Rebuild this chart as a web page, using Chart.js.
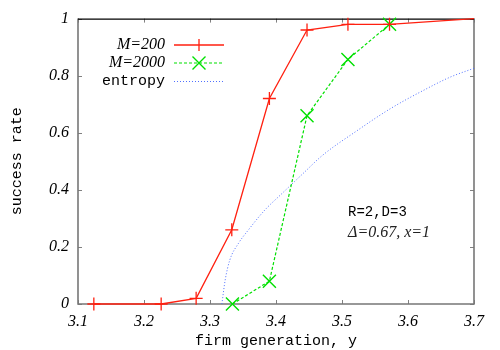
<!DOCTYPE html>
<html><head><meta charset="utf-8">
<script src="https://cdn.jsdelivr.net/npm/chart.js@4/dist/chart.umd.min.js"></script>
<style>html,body{margin:0;padding:0;background:#fff}#wrap{width:500px;height:350px}</style>
</head><body><div id="wrap"><canvas id="c" width="500" height="350"></canvas></div>
<script>
const m200X = [3.124, 3.226, 3.279, 3.333, 3.390, 3.447, 3.509, 3.572, 3.70];
const m200Y = [0, 0, 0.02, 0.26, 0.72, 0.96, 0.98, 0.98, 1.0];
const m2000X = [3.334, 3.390, 3.447, 3.509, 3.572];
const m2000Y = [0, 0.08, 0.66, 0.857, 0.98];
const entX = [3.318, 3.323, 3.330, 3.343, 3.358, 3.383, 3.409, 3.44, 3.47, 3.522, 3.573, 3.623, 3.664, 3.70];
const entY = [0, 0.084, 0.154, 0.212, 0.259, 0.329, 0.387, 0.455, 0.52, 0.606, 0.684, 0.748, 0.795, 0.826];
const xTicks = [3.1, 3.2, 3.3, 3.4, 3.5, 3.6, 3.7];
const yTicks = [0, 0.2, 0.4, 0.6, 0.8, 1];
const seriesNames = ['M=200', 'M=2000', 'entropy'];

const pts = (xs, ys) => xs.map((x, i) => ({x: x, y: ys[i]}));
const RED = '#ff2010', GREEN = '#00e000', BLUE = '#5070ff';
const serif = 'italic 16px "Liberation Serif", "DejaVu Serif", serif';
const mono = '15px "Liberation Mono", "DejaVu Sans Mono", monospace';

const framePlugin = {
  id: 'frame',
  beforeDatasetsDraw(chart) {
    const {ctx, chartArea: a, scales} = chart;
    ctx.save();
    ctx.lineWidth = 1;
    ctx.strokeStyle = '#808080';
    const tl = 4;
    ctx.beginPath();
    xTicks.forEach(v => {
      const px = Math.round(scales.x.getPixelForValue(v)) + 0.5;
      ctx.moveTo(px, a.bottom); ctx.lineTo(px, a.bottom - tl);
      ctx.moveTo(px, a.top); ctx.lineTo(px, a.top + tl);
    });
    yTicks.forEach(v => {
      const py = Math.round(scales.y.getPixelForValue(v)) + 0.5;
      ctx.moveTo(a.left, py); ctx.lineTo(a.left + tl, py);
      ctx.moveTo(a.right, py); ctx.lineTo(a.right - tl, py);
    });
    ctx.stroke();
    ctx.lineWidth = 1.6;
    ctx.strokeStyle = '#777';
    ctx.beginPath();
    ctx.moveTo(a.left, a.top); ctx.lineTo(a.left, a.bottom); ctx.lineTo(a.right, a.bottom); ctx.lineTo(a.right, a.top);
    ctx.stroke();
    ctx.lineWidth = 1.2;
    ctx.strokeStyle = '#000';
    ctx.beginPath();
    ctx.moveTo(a.left, a.top + 0.5); ctx.lineTo(a.right, a.top + 0.5);
    ctx.stroke();
    ctx.restore();
  },
  afterDatasetsDraw(chart) {
    const {ctx, scales} = chart;
    ctx.save();
    // legend
    const rows = [45, 63, 81];
    const tx = 165, l0 = 174, l1 = 224, lm = 199;
    ctx.textAlign = 'right';
    ctx.textBaseline = 'middle';
    ctx.fillStyle = '#000';
    ctx.font = serif; ctx.fillText(seriesNames[0], tx, rows[0]);
    ctx.fillText(seriesNames[1], tx, rows[1]);
    ctx.font = mono; ctx.fillText(seriesNames[2], tx, rows[2]);
    ctx.strokeStyle = RED; ctx.lineWidth = 1.3; ctx.setLineDash([]);
    ctx.beginPath(); ctx.moveTo(l0, rows[0]); ctx.lineTo(l1, rows[0]);
    ctx.moveTo(lm, rows[0] - 6); ctx.lineTo(lm, rows[0] + 6); ctx.stroke();
    ctx.strokeStyle = GREEN; ctx.lineWidth = 1.2; ctx.setLineDash([3, 2]);
    ctx.beginPath(); ctx.moveTo(l0, rows[1]); ctx.lineTo(l1, rows[1]); ctx.stroke();
    ctx.setLineDash([]); ctx.lineWidth = 1.4;
    ctx.beginPath(); ctx.moveTo(lm - 6.5, rows[1] - 6.5); ctx.lineTo(lm + 6.5, rows[1] + 6.5);
    ctx.moveTo(lm - 6.5, rows[1] + 6.5); ctx.lineTo(lm + 6.5, rows[1] - 6.5); ctx.stroke();
    ctx.strokeStyle = BLUE; ctx.lineWidth = 1; ctx.setLineDash([1, 2]);
    ctx.beginPath(); ctx.moveTo(l0, rows[2] + 0.5); ctx.lineTo(l1, rows[2] + 0.5); ctx.stroke();
    ctx.setLineDash([]);

    // annotation
    ctx.textAlign = 'left';
    ctx.font = '14px "Liberation Mono", "DejaVu Sans Mono", monospace';
    const ax = scales.x.getPixelForValue(3.5) + 6;
    ctx.fillText('R=2,D=3', ax, scales.y.getPixelForValue(0.322));
    ctx.font = serif;
    ctx.fillStyle = '#222';
    ctx.fillText('\u0394=0.67, x=1', ax, scales.y.getPixelForValue(0.25));
    ctx.restore();
  }
};

new Chart(document.getElementById('c'), {
  type: 'scatter',
  data: {
    datasets: [
      {label: seriesNames[0], data: pts(m200X, m200Y), showLine: true, clip: false, borderColor: RED, backgroundColor: RED,
       borderWidth: 1.3, pointStyle: 'cross', pointRadius: m200X.map((x, i) => i === m200X.length - 1 ? 0 : 6.5),
       pointBorderWidth: 1.3, pointBorderColor: RED},
      {label: seriesNames[1], data: pts(m2000X, m2000Y), showLine: true, clip: false, borderColor: GREEN, backgroundColor: GREEN,
       borderWidth: 1.2, borderDash: [3, 2], pointStyle: 'crossRot', pointRadius: 9.2,
       pointBorderWidth: 1.4, pointBorderColor: GREEN},
      {label: seriesNames[2], data: pts(entX, entY), showLine: true, borderColor: BLUE,
       borderWidth: 1, borderDash: [1, 2], pointRadius: 0, cubicInterpolationMode: 'monotone'}
    ]
  },
  options: {
    responsive: false,
    animation: false,
    layout: {padding: {top: 18, right: 26, left: 0, bottom: 0}},
    plugins: {legend: {display: false}, tooltip: {enabled: false}},
    scales: {
      x: {
        type: 'linear', min: 3.1, max: 3.7,
        afterFit: s => { s.height = 46; },
        afterBuildTicks: s => { s.ticks = xTicks.map(v => ({value: v})); },
        grid: {display: false, drawTicks: false},
        border: {display: false},
        ticks: {padding: 8, color: '#000', font: {family: '"Liberation Serif"', style: 'italic', size: 16},
                callback: v => String(v), maxRotation: 0, autoSkip: false},
        title: {display: true, text: 'firm generation, y', color: '#000',
                font: {family: '"Liberation Mono"', size: 15}, padding: {top: 0, bottom: 0}}
      },
      y: {
        type: 'linear', min: 0, max: 1,
        afterFit: s => { s.width = 78; },
        afterBuildTicks: s => { s.ticks = yTicks.map(v => ({value: v})); },
        grid: {display: false, drawTicks: false},
        border: {display: false},
        ticks: {padding: 9, color: '#000', font: {family: '"Liberation Serif"', style: 'italic', size: 16},
                callback: v => String(v)},
        title: {display: true, text: 'success rate', color: '#000',
                font: {family: '"Liberation Mono"', size: 15}, padding: {top: 8, bottom: 0}}
      }
    }
  },
  plugins: [framePlugin]
});
</script></body></html>
